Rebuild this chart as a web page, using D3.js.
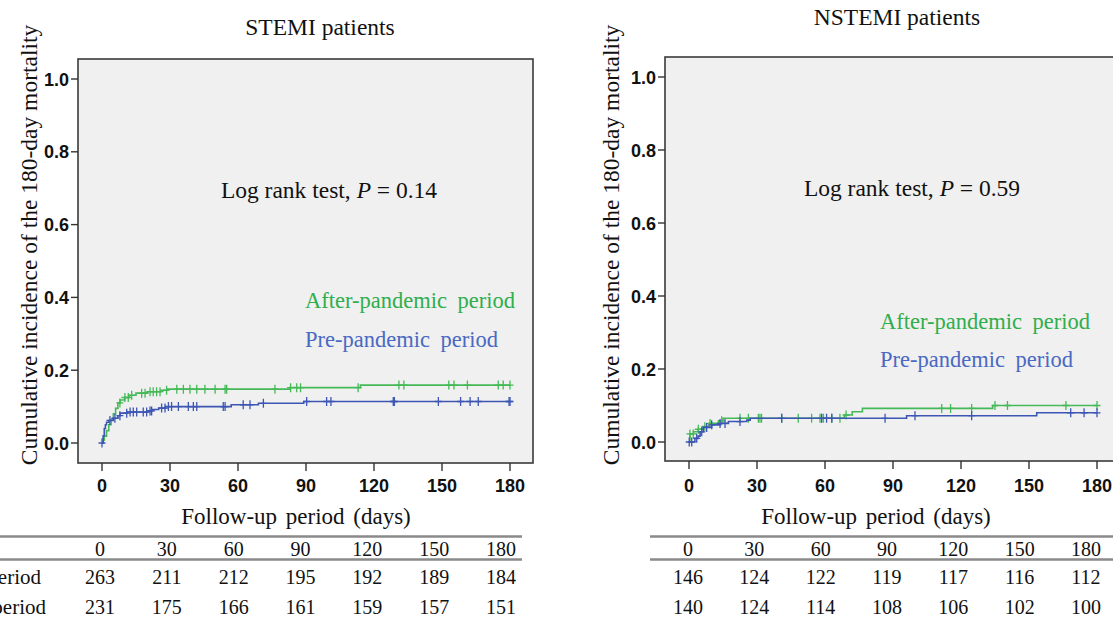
<!DOCTYPE html>
<html>
<head>
<meta charset="utf-8">
<title>180-day mortality: STEMI and NSTEMI</title>
<script src="https://d3js.org/d3.v7.min.js"></script>
<style>
    body { margin: 0; background: #fff; }
    .serif { font-family: "Liberation Serif", "Times New Roman", serif; fill: #111; }
    .tick-label { font-family: "Liberation Sans", Arial, sans-serif; font-weight: bold; font-size: 18px; fill: #111; }
</style>
</head>
<body>
<div id="chart"></div>
<script>

// ---- data ----
var timeTicks = [0, 30, 60, 90, 120, 150, 180];
var incidenceTicks = [0, 0.2, 0.4, 0.6, 0.8, 1.0];
var seriesNames = ["After-pandemic period", "Pre-pandemic period"];

// STEMI, after-pandemic: [day, cumulative incidence] at each event
var stemiAfterSteps = [[0, 0], [0.5, 0.008], [1, 0.019], [2, 0.034], [3, 0.05], [4, 0.065], [5, 0.08],
    [6, 0.095], [7, 0.11], [8, 0.118], [10, 0.125], [12, 0.131], [15, 0.137], [20, 0.141],
    [26, 0.145], [29, 0.148], [83, 0.152], [114, 0.159]];
var stemiAfterCensor = [7.9, 10.1, 11.6, 13.1, 17.5, 19, 21.2, 22.6, 24.1, 25.6, 28.5, 33, 35.9, 38.8,
    41.8, 45.4, 49.9, 54.3, 55, 76.3, 83.2, 85.9, 87.6, 113, 131, 133.2, 153, 155.3, 161.2, 174.8, 177, 180];

// STEMI, pre-pandemic
var stemiPreSteps = [[0, 0], [0.5, 0.02], [1, 0.04], [1.5, 0.05], [2, 0.057], [3, 0.062], [5, 0.068],
    [7, 0.075], [8, 0.082], [11, 0.085], [20, 0.088], [22, 0.092], [25, 0.096], [28, 0.1],
    [57, 0.105], [69, 0.109], [89, 0.114]];
var stemiPreCensor = [0, 3.5, 5.7, 7.9, 10.9, 12.4, 13.8, 15.3, 18.2, 19.7, 21.2, 21.9, 26.3, 27.8, 29.3,
    30.7, 33.7, 38.1, 40.3, 41.8, 53.5, 54.3, 62.3, 65.3, 71.2, 90.3, 99.1, 101, 128.5, 129, 148.4,
    158.2, 162.4, 166, 179.6, 180];

// NSTEMI, after-pandemic
var nstemiAfterSteps = [[0, 0], [0.4, 0.022], [2, 0.028], [4, 0.035], [6, 0.042], [9, 0.051],
    [13, 0.058], [15, 0.065], [68.5, 0.074], [72, 0.083], [76.5, 0.092], [134, 0.1]];
var nstemiAfterCensor = [0.4, 1.9, 4.1, 7, 9.3, 14.4, 22.5, 26.2, 30.6, 31.3, 32, 40.9, 48.2, 54.1, 57.8,
    58.5, 59.3, 63, 66.6, 69.3, 111.5, 115.4, 124.7, 135, 140.5, 166.3, 180];

// NSTEMI, pre-pandemic
var nstemiPreSteps = [[0, 0], [2.6, 0.01], [4, 0.016], [4.9, 0.028], [6.3, 0.04], [10, 0.047],
    [13.7, 0.051], [17.4, 0.056], [25.5, 0.06], [27, 0.065], [96, 0.072], [153.4, 0.08]];
var nstemiPreCensor = [0.1, 1.2, 3.4, 5.6, 7.8, 10, 13.7, 15.9, 22.5, 40.9, 58.5, 60.7, 63, 86.5, 99.7,
    124.7, 168.4, 174.3, 180];

// numbers at risk under each panel
var stemiAtRiskAfter = [263, 211, 212, 195, 192, 189, 184];
var stemiAtRiskPre = [231, 175, 166, 161, 159, 157, 151];
var nstemiAtRiskAfter = [146, 124, 122, 119, 117, 116, 112];
var nstemiAtRiskPre = [140, 124, 114, 108, 106, 102, 100];

var greenLine = "#45b957", blueLine = "#3d56b4";
var greenText = "#2fae4c", blueText = "#4a69c2";

var svg = d3.select("#chart").append("svg")
    .attr("width", 1113)
    .attr("height", 619)
    .style("background", "#fff");

// value of a step curve at a given day
function stepValue(steps, t) {
    var v = 0;
    steps.forEach(function (s) { if (s[0] <= t) v = s[1]; });
    return v;
}

function drawPanel(p) {
    var x = d3.scaleLinear().domain([0, 180]).range([p.x0, p.x1]);
    var y = d3.scaleLinear().domain([0, 1]).range([p.y0, p.y1]);
    var g = svg.append("g");

    // plot frame
    g.append("rect")
        .attr("x", p.fx0).attr("y", p.fy0)
        .attr("width", p.fx1 - p.fx0).attr("height", p.fy1 - p.fy0)
        .attr("fill", "#f0f0f0")
        .attr("stroke", "#3a3a3a")
        .attr("stroke-width", 1.6);

    // y axis ticks
    g.selectAll(".ytick").data(incidenceTicks).enter().append("line")
        .attr("x1", p.fx0 - 7).attr("x2", p.fx0)
        .attr("y1", function (d) { return y(d); }).attr("y2", function (d) { return y(d); })
        .attr("stroke", "#333").attr("stroke-width", 1.4);
    g.selectAll(".ylab").data(incidenceTicks).enter().append("text")
        .attr("class", "tick-label")
        .attr("x", p.fx0 - 9)
        .attr("y", function (d) { return y(d) + 6.5; })
        .attr("text-anchor", "end")
        .text(function (d) { return d3.format(".1f")(d); });

    // x axis ticks
    g.selectAll(".xtick").data(timeTicks).enter().append("line")
        .attr("x1", function (d) { return x(d); }).attr("x2", function (d) { return x(d); })
        .attr("y1", p.fy1).attr("y2", p.fy1 + 8)
        .attr("stroke", "#333").attr("stroke-width", 1.4);
    g.selectAll(".xlab").data(timeTicks).enter().append("text")
        .attr("class", "tick-label")
        .attr("x", function (d) { return x(d); })
        .attr("y", 492)
        .attr("text-anchor", "middle")
        .text(function (d) { return d; });

    // curves
    var line = d3.line()
        .x(function (d) { return x(d[0]); })
        .y(function (d) { return y(d[1]); })
        .curve(d3.curveStepAfter);

    p.series.forEach(function (s) {
        var pts = s.steps.concat([[180, s.steps[s.steps.length - 1][1]]]);
        g.append("path")
            .attr("d", line(pts))
            .attr("fill", "none")
            .attr("stroke", s.color)
            .attr("stroke-width", 1.6);
        g.selectAll(null).data(s.censor).enter().append("path")
            .attr("d", function (t) {
                var cx = x(t), cy = y(stepValue(s.steps, t));
                return "M" + (cx - 3.5) + "," + cy + "H" + (cx + 3.5) +
                    "M" + cx + "," + (cy - 4.5) + "V" + (cy + 4.5);
            })
            .attr("stroke", s.color)
            .attr("stroke-width", 1.3)
            .attr("fill", "none");
    });

    // texts
    g.append("text").attr("class", "serif")
        .attr("x", p.titleX).attr("y", p.titleY)
        .attr("text-anchor", "middle")
        .style("font-size", "23.5px")
        .text(p.title);

    g.append("text").attr("class", "serif")
        .attr("transform", "translate(" + p.yTitleX + ",245) rotate(-90)")
        .attr("text-anchor", "middle")
        .style("font-size", "23.5px")
        .text("Cumulative incidence of the 180-day mortality");

    g.append("text").attr("class", "serif")
        .attr("x", p.xTitleX).attr("y", 524)
        .attr("text-anchor", "middle")
        .style("font-size", "23px")
        .style("word-spacing", "3px")
        .text("Follow-up period (days)");

    var lr = g.append("text").attr("class", "serif")
        .attr("x", p.logX).attr("y", p.logY)
        .attr("text-anchor", "middle")
        .style("font-size", "23.5px");
    lr.append("tspan").text("Log rank test, ");
    lr.append("tspan").style("font-style", "italic").text("P");
    lr.append("tspan").text(" = " + p.pValue);

    p.series.forEach(function (s, i) {
        g.append("text").attr("class", "serif")
            .attr("x", p.legX).attr("y", p.legY[i])
            .style("font-size", "22.5px")
            .style("word-spacing", "5px")
            .style("fill", s.textColor)
            .text(s.name);
    });

    // numbers-at-risk table
    var col = d3.scalePoint().domain(timeTicks).range([p.tab0, p.tab1]);
    [536.5, 559.5].forEach(function (ly) {
        g.append("line")
            .attr("x1", p.rule0).attr("x2", p.rule1)
            .attr("y1", ly).attr("y2", ly)
            .attr("stroke", "#8a8a8a").attr("stroke-width", 2.5);
    });
    g.selectAll(null).data(timeTicks).enter().append("text")
        .attr("class", "serif")
        .attr("x", function (d) { return col(d); })
        .attr("y", 556)
        .attr("text-anchor", "middle")
        .style("font-size", "20px")
        .text(function (d) { return d; });
    p.series.forEach(function (s, i) {
        var rowY = [584, 614][i];
        g.selectAll(null).data(s.atRisk).enter().append("text")
            .attr("class", "serif")
            .attr("x", function (d, j) { return col(timeTicks[j]); })
            .attr("y", rowY)
            .attr("text-anchor", "middle")
            .style("font-size", "20px")
            .text(function (d) { return d; });
        if (p.rowLabelX !== null) {
            // row labels sit mostly off the left edge, as in the source figure
            g.append("text").attr("class", "serif")
                .attr("x", p.rowLabelX[i]).attr("y", rowY)
                .attr("text-anchor", "end")
                .style("font-size", "21px")
                .text(s.name);
        }
    });
}

drawPanel({
    title: "STEMI patients", titleX: 320, titleY: 35,
    fx0: 78, fx1: 533, fy0: 59, fy1: 463,
    x0: 102, x1: 510, y0: 443, y1: 79,
    yTitleX: 37, xTitleX: 296,
    logX: 329, logY: 198, pValue: "0.14",
    legX: 305, legY: [308, 347],
    tab0: 100, tab1: 501, rule0: 0, rule1: 522, rowLabelX: [41, 46],
    series: [
        { name: seriesNames[0], steps: stemiAfterSteps, censor: stemiAfterCensor, atRisk: stemiAtRiskAfter, color: greenLine, textColor: greenText },
        { name: seriesNames[1], steps: stemiPreSteps, censor: stemiPreCensor, atRisk: stemiAtRiskPre, color: blueLine, textColor: blueText }
    ]
});

drawPanel({
    title: "NSTEMI patients", titleX: 897, titleY: 25,
    fx0: 665, fx1: 1130, fy0: 57, fy1: 461,
    x0: 689, x1: 1097, y0: 442, y1: 77,
    yTitleX: 619, xTitleX: 876,
    logX: 912, logY: 196, pValue: "0.59",
    legX: 880, legY: [329, 367],
    tab0: 688, tab1: 1086, rule0: 650, rule1: 1113, rowLabelX: null,
    series: [
        { name: seriesNames[0], steps: nstemiAfterSteps, censor: nstemiAfterCensor, atRisk: nstemiAtRiskAfter, color: greenLine, textColor: greenText },
        { name: seriesNames[1], steps: nstemiPreSteps, censor: nstemiPreCensor, atRisk: nstemiAtRiskPre, color: blueLine, textColor: blueText }
    ]
});

</script>
</body>
</html>
